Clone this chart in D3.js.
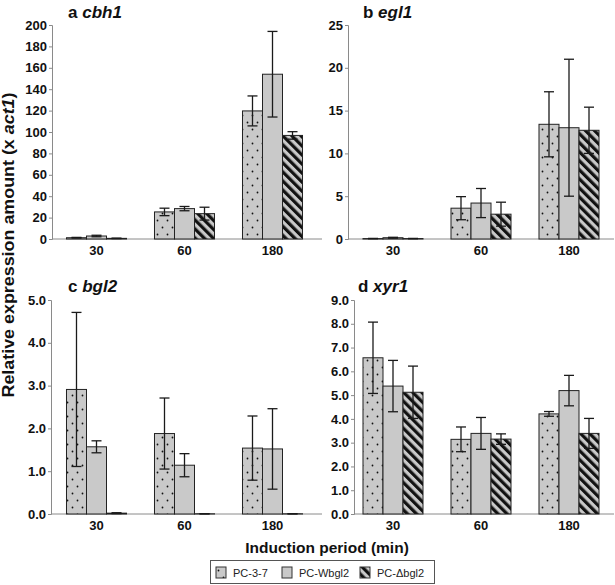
<!DOCTYPE html>
<html>
<head>
<meta charset="utf-8">
<script src="https://cdn.jsdelivr.net/npm/d3@7"></script>
<style>
  body { margin: 0; background: #fff; }
  text { font-family: "Liberation Sans", Arial, sans-serif; }
</style>
</head>
<body>
<div id="chart"></div>
<script>
// data: rows = induction period, columns = strain
var periods = ["30", "60", "180"];
var strains = ["PC-3-7", "PC-Wbgl2", "PC-\u0394bgl2"];

var cbh1Mean = [[1.2, 2.8, 0.6], [25.3, 28.4, 23.7], [119.7, 154, 96.8]];
var cbh1Err  = [[0.3, 0.7, 0.2], [3.5, 2, 6], [14, 40, 3.5]];

var egl1Mean = [[0.05, 0.15, 0.05], [3.6, 4.2, 2.9], [13.4, 13.0, 12.7]];
var egl1Err  = [[0.02, 0.05, 0.02], [1.35, 1.7, 1.4], [3.8, 8, 2.7]];

var bgl2Mean = [[2.91, 1.57, 0.02], [1.88, 1.14, 0.005], [1.54, 1.52, 0.005]];
var bgl2Err  = [[1.8, 0.14, 0.01], [0.83, 0.27, 0], [0.75, 0.94, 0]];

var xyr1Mean = [[6.57, 5.38, 5.12], [3.14, 3.39, 3.15], [4.21, 5.19, 3.39]];
var xyr1Err  = [[1.5, 1.08, 1.1], [0.52, 0.67, 0.22], [0.1, 0.64, 0.63]];

var svgWidth = 615;
var svgHeight = 585;

var svg = d3.select("#chart")
  .append("svg")
  .attr("width", svgWidth)
  .attr("height", svgHeight);

var defs = svg.append("defs");

// dotted fill
var dots = defs.append("pattern")
  .attr("id", "dots")
  .attr("patternUnits", "userSpaceOnUse")
  .attr("width", 10)
  .attr("height", 14);
dots.append("rect").attr("width", 10).attr("height", 14).attr("fill", "#c9c9c9");
dots.append("circle").attr("cx", 2.5).attr("cy", 3.5).attr("r", 0.9).attr("fill", "#111");
dots.append("circle").attr("cx", 7.5).attr("cy", 10.5).attr("r", 0.9).attr("fill", "#111");

// diagonal hatch
var stripes = defs.append("pattern")
  .attr("id", "stripes")
  .attr("patternUnits", "userSpaceOnUse")
  .attr("width", 6.4)
  .attr("height", 6.4)
  .attr("patternTransform", "rotate(-45)");
stripes.append("rect").attr("width", 6.4).attr("height", 6.4).attr("fill", "#c9c9c9");
stripes.append("rect").attr("width", 3.2).attr("height", 6.4).attr("fill", "#111");

var fills = ["url(#dots)", "#c9c9c9", "url(#stripes)"];

var colRange = [[52.5, 316.5], [349, 613]];
var colEnd = [322, 614];
var rowRange = [[239, 25], [514, 300]];

var panels = [
  {letter: "a", gene: "cbh1", mean: cbh1Mean, err: cbh1Err, max: 200, step: 20, fmt: "d", col: 0, row: 0, axisX: 52, titleX: 68},
  {letter: "b", gene: "egl1", mean: egl1Mean, err: egl1Err, max: 25, step: 5, fmt: "d", col: 1, row: 0, axisX: 348, titleX: 363},
  {letter: "c", gene: "bgl2", mean: bgl2Mean, err: bgl2Err, max: 5, step: 1, fmt: ".1f", col: 0, row: 1, axisX: 51, titleX: 68},
  {letter: "d", gene: "xyr1", mean: xyr1Mean, err: xyr1Err, max: 9, step: 1, fmt: ".1f", col: 1, row: 1, axisX: 354, titleX: 358}
];

panels.forEach(function(p) {
  var g = svg.append("g");

  var x0 = d3.scaleBand()
    .domain(periods)
    .range(colRange[p.col])
    .paddingInner(0.318)
    .paddingOuter(0.159);

  var x1 = d3.scaleBand()
    .domain(strains)
    .range([0, x0.bandwidth()]);

  var y = d3.scaleLinear()
    .domain([0, p.max])
    .range(rowRange[p.row]);

  // y axis
  var leftAxis = d3.axisLeft(y)
    .tickValues(d3.range(0, p.max + p.step / 2, p.step))
    .tickFormat(d3.format(p.fmt))
    .tickSize(3)
    .tickPadding(2);

  var ya = g.append("g")
    .attr("transform", `translate(${p.axisX}, 0)`)
    .call(leftAxis);
  ya.select(".domain").attr("stroke", "#8a8a8a");
  ya.selectAll(".tick line").attr("stroke", "#8a8a8a");
  ya.selectAll(".tick text")
    .attr("fill", "#111")
    .style("font-size", "13px")
    .style("font-weight", "bold");

  // x axis
  var bottomAxis = d3.axisBottom(x0).tickSize(0).tickPadding(7);
  var xa = g.append("g")
    .attr("transform", `translate(0, ${y(0)})`)
    .call(bottomAxis);
  xa.select(".domain").remove();
  xa.append("line")
    .attr("x1", p.axisX).attr("x2", colEnd[p.col])
    .attr("stroke", "#8a8a8a");
  xa.selectAll(".tick text")
    .attr("fill", "#111")
    .style("font-size", "13px")
    .style("font-weight", "bold");

  // bars
  var rows = periods.map(function(per, i) {
    return strains.map(function(s, j) {
      return {period: per, strain: s, j: j, v: p.mean[i][j], e: p.err[i][j]};
    });
  });
  var flat = d3.merge(rows);

  g.selectAll("rect.bar")
    .data(flat)
    .enter()
    .append("rect")
    .attr("class", "bar")
    .attr("x", d => x0(d.period) + x1(d.strain))
    .attr("y", d => y(d.v))
    .attr("width", x1.bandwidth())
    .attr("height", d => y(0) - y(d.v))
    .attr("fill", d => fills[d.j])
    .attr("stroke", "#222")
    .attr("stroke-width", 1);

  // error bars
  var eb = g.selectAll("g.err")
    .data(flat)
    .enter()
    .append("g")
    .attr("class", "err")
    .attr("stroke", "#1a1a1a")
    .attr("stroke-width", 1.3);
  var cx = d => x0(d.period) + x1(d.strain) + x1.bandwidth() / 2;
  eb.append("line")
    .attr("x1", cx).attr("x2", cx)
    .attr("y1", d => y(d.v + d.e)).attr("y2", d => y(Math.max(0, d.v - d.e)));
  eb.append("line")
    .attr("x1", d => cx(d) - 5).attr("x2", d => cx(d) + 5)
    .attr("y1", d => y(d.v + d.e)).attr("y2", d => y(d.v + d.e));
  eb.append("line")
    .attr("x1", d => cx(d) - 5).attr("x2", d => cx(d) + 5)
    .attr("y1", d => y(Math.max(0, d.v - d.e))).attr("y2", d => y(Math.max(0, d.v - d.e)));

  // panel title
  var t = g.append("text")
    .attr("x", p.titleX)
    .attr("y", p.row == 0 ? 18 : 292)
    .style("font-size", "17px")
    .style("font-weight", "bold")
    .attr("fill", "#111");
  t.append("tspan").text(p.letter + " ");
  t.append("tspan").style("font-style", "italic").text(p.gene);
});

// axis titles
var yTitle = svg.append("text")
  .attr("transform", "translate(14, 245) rotate(-90)")
  .style("text-anchor", "middle")
  .style("font-size", "16px")
  .style("font-weight", "bold")
  .attr("fill", "#111")
  .attr("textLength", 305)
  .attr("lengthAdjust", "spacingAndGlyphs");
yTitle.append("tspan").text("Relative expression amount (x ");
yTitle.append("tspan").style("font-style", "italic").text("act1");
yTitle.append("tspan").text(")");

svg.append("text")
  .attr("x", 327)
  .attr("y", 553)
  .style("text-anchor", "middle")
  .style("font-size", "15.5px")
  .style("font-weight", "bold")
  .attr("fill", "#111")
  .text("Induction period (min)");

// legend
var legend = svg.append("g");
legend.append("rect")
  .attr("x", 210.5).attr("y", 560.5)
  .attr("width", 224).attr("height", 23)
  .attr("fill", "#fff")
  .attr("stroke", "#555");

var legendX = [216, 282, 360];
var items = legend.selectAll("g.item")
  .data(strains)
  .enter()
  .append("g")
  .attr("class", "item")
  .attr("transform", (d, i) => `translate(${legendX[i]}, 567)`);
items.append("rect")
  .attr("width", 10).attr("height", 11)
  .attr("fill", (d, i) => fills[i])
  .attr("stroke", "#333");
items.append("text")
  .attr("x", 17)
  .attr("y", 9.5)
  .style("font-size", "11px")
  .attr("fill", "#222")
  .text(d => d);
</script>
</body>
</html>
